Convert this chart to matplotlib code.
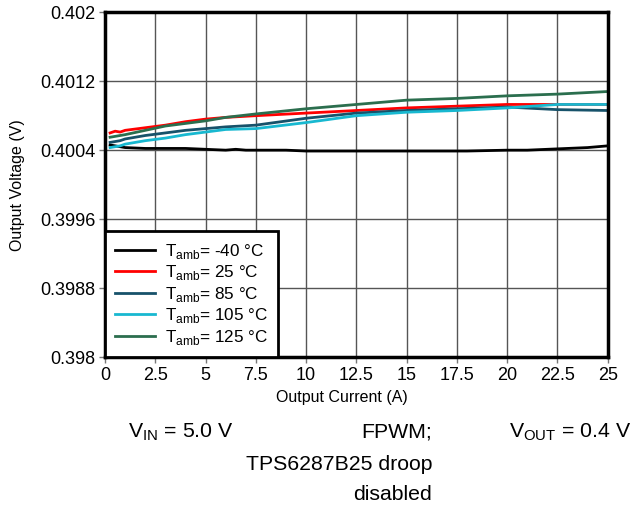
import matplotlib
matplotlib.use("Agg")
import matplotlib.pyplot as plt

plt.rcParams['font.family'] = ['Liberation Sans', 'DejaVu Sans']

x_black = [0.25, 0.5, 1, 2, 3, 4, 5, 6, 6.5, 7, 8, 9, 10, 12, 14, 16, 18, 20, 21, 22, 23, 24, 25]
v_m40 = [0.40046, 0.40045, 0.40043, 0.40042, 0.40042, 0.40042, 0.40041, 0.40040, 0.40041, 0.40040,
         0.40040, 0.40040, 0.40039, 0.40039, 0.40039, 0.40039, 0.40039, 0.40040, 0.40040, 0.40041,
         0.40042, 0.40043, 0.40045]

x_hot = [0.25, 0.5, 0.75, 1, 2, 3, 4, 5, 6, 7.5, 10, 12.5, 15, 17.5, 20, 22.5, 25]
v_25 = [0.40060, 0.40062, 0.40061, 0.40063, 0.40066, 0.40069, 0.40073, 0.40076, 0.40078, 0.40080,
        0.40083, 0.40086, 0.40089, 0.40091, 0.40093, 0.40093, 0.40093]
v_85 = [0.40049, 0.40050, 0.40051, 0.40053, 0.40057, 0.40060, 0.40063, 0.40065, 0.40067, 0.40069,
        0.40077, 0.40083, 0.40086, 0.40088, 0.40090, 0.40087, 0.40086]
v_105 = [0.40043, 0.40044, 0.40045, 0.40047, 0.40051, 0.40054, 0.40058, 0.40061, 0.40064, 0.40065,
         0.40072, 0.40080, 0.40084, 0.40086, 0.40089, 0.40093, 0.40093]
v_125 = [0.40055, 0.40056, 0.40057, 0.40058, 0.40063, 0.40068, 0.40071, 0.40074, 0.40078, 0.40082,
         0.40088, 0.40093, 0.40098, 0.40100, 0.40103, 0.40105, 0.40108]

labels = [r'T$_{\mathregular{amb}}$= -40 °C', r'T$_{\mathregular{amb}}$= 25 °C',
          r'T$_{\mathregular{amb}}$= 85 °C', r'T$_{\mathregular{amb}}$= 105 °C',
          r'T$_{\mathregular{amb}}$= 125 °C']
colors = ['#000000', '#FF0000', '#17526A', '#18B8D0', '#2B6E4E']

xticks = [0, 2.5, 5, 7.5, 10, 12.5, 15, 17.5, 20, 22.5, 25]
xticklabels = ['0', '2.5', '5', '7.5', '10', '12.5', '15', '17.5', '20', '22.5', '25']
yticks = [0.398, 0.3988, 0.3996, 0.4004, 0.4012, 0.402]
yticklabels = ['0.398', '0.3988', '0.3996', '0.4004', '0.4012', '0.402']

fig = plt.figure(figsize=(6.33, 5.08), dpi=100)
ax = fig.add_axes([0.166, 0.297, 0.794, 0.679])

series = [(x_black, v_m40), (x_hot, v_25), (x_hot, v_85), (x_hot, v_105), (x_hot, v_125)]
for (xs, ys), lab, c in zip(series, labels, colors):
    ax.plot(xs, ys, color=c, lw=2, label=lab)

ax.set_xlim(0, 25)
ax.set_ylim(0.398, 0.402)
ax.set_xticks(xticks)
ax.set_xticklabels(xticklabels)
ax.set_yticks(yticks)
ax.set_yticklabels(yticklabels)
ax.grid(True, color='#555555', lw=1)
ax.tick_params(length=4, color='#777777', width=1, labelsize=13, pad=3)
for s in ax.spines.values():
    s.set_linewidth(2.5)
    s.set_color('black')
ax.set_xlabel('Output Current (A)', fontsize=11.5, labelpad=0)
ax.xaxis.set_label_coords((342 - 105) / 503, -(390 - 357) / 345)
ax.set_ylabel('Output Voltage (V)', fontsize=11.5)
ax.yaxis.set_label_coords(-(105 - 25) / 503, 0.5)

leg = ax.legend(loc='lower left', fontsize=12.3, fancybox=False, framealpha=1,
                edgecolor='black', borderaxespad=0, handlelength=2.3,
                handletextpad=0.6, labelspacing=0.15, borderpad=0.6)
leg.get_frame().set_linewidth(2)

fs = 15.3
fig.text(128/633, 1 - 432/508, r'V$_{\mathregular{IN}}$ = 5.0 V', fontsize=fs, ha='left', va='center')
fig.text(432/633, 1 - 432/508, 'FPWM;', fontsize=fs, ha='right', va='center')
fig.text(432/633, 1 - 465/508, 'TPS6287B25 droop', fontsize=fs, ha='right', va='center')
fig.text(432/633, 1 - 494/508, 'disabled', fontsize=fs, ha='right', va='center')
fig.text(631/633, 1 - 432/508, r'V$_{\mathregular{OUT}}$ = 0.4 V', fontsize=fs, ha='right', va='center')

fig.savefig('out.png', dpi=100)
